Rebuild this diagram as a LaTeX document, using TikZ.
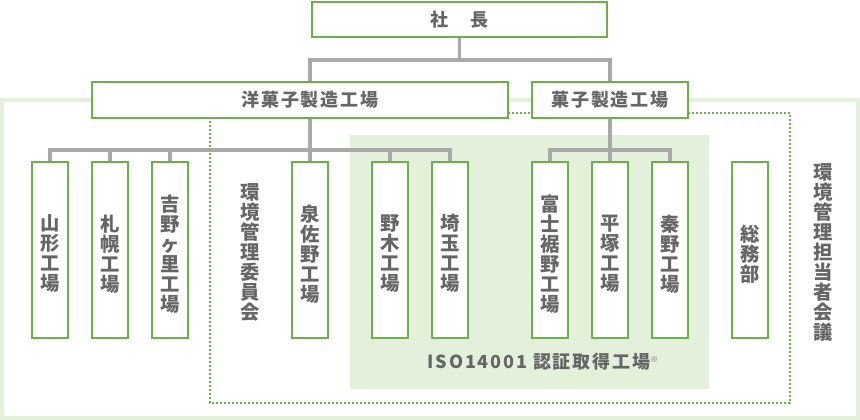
\documentclass[tikz,border=0pt]{standalone}
\usepackage{fontspec}
\setmainfont{Noto Sans CJK JP}
\usetikzlibrary{positioning}
\definecolor{boxgreen}{HTML}{6DB04A}
\definecolor{palegreen}{HTML}{E3F0DA}
\definecolor{lngray}{HTML}{A8A8A8}
\definecolor{txgray}{HTML}{666666}
\newcommand\hfont{\fontsize{13.5}{15}\selectfont\bfseries\addfontfeature{LetterSpace=10}}
\newcommand\vfont{\fontsize{14.5}{15}\selectfont\bfseries}

\begin{document}
\begin{tikzpicture}[
    x=0.75pt, y=-0.75pt,
    hbox/.style ={draw=boxgreen, line width=1.75pt, fill=white, minimum height=26.75pt, inner sep=0pt},
    vbox/.style ={draw=boxgreen, line width=1.75pt, fill=white, minimum width=26.75pt, minimum height=131.75pt,
                  inner sep=0pt},
    conn/.style ={draw=lngray, line width=2.6pt},
    lbl/.style  ={text=txgray, font=\hfont, inner sep=0pt},
    vlbl/.style ={text=txgray, font=\vfont, align=center, inner sep=0pt}
]
\useasboundingbox (0,0) rectangle (860,420);

% frames
\draw[draw=palegreen, line width=3pt] (2,100) rectangle (858,417.5);
\fill[palegreen] (350,135) rectangle (709,389);
\draw[draw=boxgreen, line width=1.5pt, dash pattern=on 1.5pt off 1.5pt] (210,113) rectangle (790,403);

% top levels
\node[hbox, minimum width=221pt, minimum height=26pt] (ceo) at (459.5,19.5) {};
\node[lbl] (ceoLbl) at (ceo) {社　長};
\node[hbox, minimum width=311.75pt] (yogashi) at (300,100) {};
\node[lbl] (yogashiLbl) at (310,100) {洋菓子製造工場};
\node[hbox, minimum width=116.75pt] (kashi) at (610,100) {};
\node[lbl] (kashiLbl) at (kashi) {菓子製造工場};

% plants
\foreach \name/\x/\txt in {yamagata/50/{山\\形\\工\\場}, sapporo/110/{札\\幌\\工\\場},
    yoshinogari/170/{吉\\野\\ヶ\\里\\工\\場}, izumisano/310/{泉\\佐\\野\\工\\場},
    nogi/390/{野\\木\\工\\場}, saitama/450/{埼\\玉\\工\\場},
    fujisusono/550/{富\\士\\裾\\野\\工\\場}, hiratsuka/610/{平\\塚\\工\\場},
    hadano/670/{秦\\野\\工\\場}, soumu/750/{総\\務\\部}}
{
  \node[vbox] (\name) at (\x,250) {};
  \node[vlbl, yshift=-2.8pt] (\name Lbl) at (\name) {\txt};
}

% connectors
\draw[conn] (ceo.south) -- ++(0,22) -| (yogashiLbl |- yogashi.north);
\draw[conn] (ceo.south) -- ++(0,22) -| (kashi.north);
\foreach \c in {yamagata,sapporo,yoshinogari,izumisano,nogi,saitama}
  \draw[conn] (yogashiLbl |- yogashi.south) -- ++(0,31) -| (\c.north);
\foreach \c in {fujisusono,hiratsuka,hadano}
  \draw[conn] (kashi.south) -- ++(0,31) -| (\c.north);

% committees
\node[vlbl] (iinkai) at (250,252.5) {環\\境\\管\\理\\委\\員\\会};
\node[vlbl] (tantou) at (823,252.5) {環\\境\\管\\理\\担\\当\\者\\会\\議};
\node[lbl] (iso) at (543,362) {ISO14001 認証取得工場\raisebox{4.5pt}{\fontsize{6}{6}\selectfont ※}};
\end{tikzpicture}
\end{document}
